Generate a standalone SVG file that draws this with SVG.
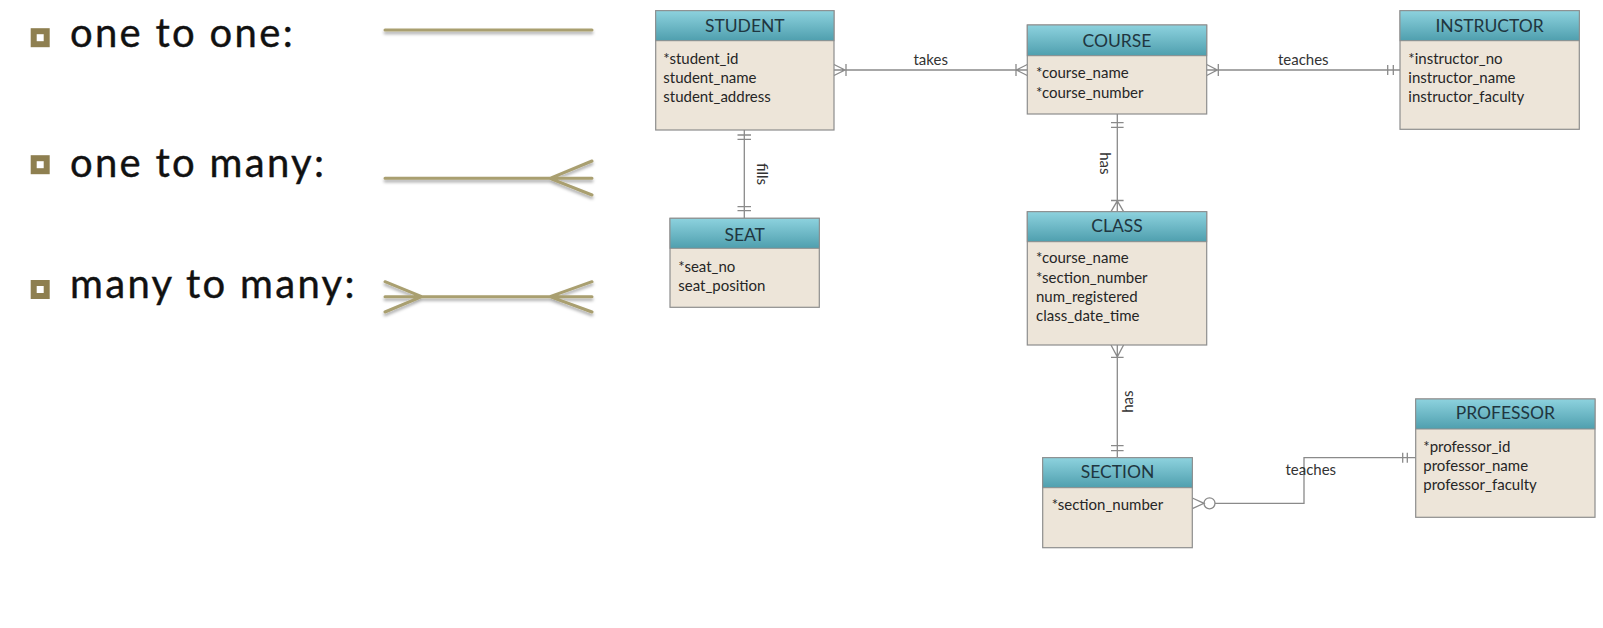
<svg xmlns="http://www.w3.org/2000/svg" width="1603" height="628" viewBox="0 0 1603 628">
<defs>
<linearGradient id="hg" x1="0" y1="0" x2="0" y2="1">
<stop offset="0" stop-color="#8dd2de"/>
<stop offset="1" stop-color="#4f9fae"/>
</linearGradient>
<filter id="sh" x="-5%" y="-50%" width="110%" height="300%">
<feDropShadow dx="0" dy="2.5" stdDeviation="1.5" flood-color="#000" flood-opacity="0.35"/>
</filter>
<style>
.hdr{fill:url(#hg);stroke:#8d8d8d;stroke-width:1}
.body{fill:#ede5d9;stroke:#8d8d8d;stroke-width:1.2}
.title{font-family:Lato,"Open Sans",sans-serif;font-size:17.5px;fill:#1f3640;text-anchor:middle}
.attr{font-family:Lato,"Open Sans",sans-serif;font-size:15px;fill:#262626}
.conn{stroke:#8a8a8a;stroke-width:1.3;fill:none}
.lbl{font-family:Lato,"Open Sans",sans-serif;font-size:15px;fill:#333}
.leg{font-family:Lato,"Open Sans",sans-serif;font-size:40px;fill:#111;stroke:#111;stroke-width:0.4;letter-spacing:2.3px}
.bul{fill:#fff;stroke:#8e7f50;stroke-width:6}
.ll{stroke:#a99f6f;stroke-width:3;fill:none;stroke-linecap:round}
</style>
</defs>
<rect width="1603" height="628" fill="#fff"/>

<g id="legend">
<rect class="bul" x="33.7" y="31.2" width="13" height="13"/>
<text class="leg" x="70" y="46.7">one to one:</text>
<rect class="bul" x="33.7" y="158.2" width="13" height="13"/>
<text class="leg" x="70" y="176.7">one to many:</text>
<rect class="bul" x="33.7" y="283" width="13" height="13"/>
<text class="leg" x="70" y="297.7">many to many:</text>
<g filter="url(#sh)">
<path class="ll" d="M385,30 H592"/>
<path class="ll" d="M385,178.3 H592 M550,178.3 L592,161 M550,178.3 L592,195"/>
<path class="ll" d="M385,296.7 H592 M421.7,296.7 L385,281.7 M421.7,296.7 L385,312 M550,296.7 L592,281.7 M550,296.7 L592,312"/>
</g>
</g>

<g id="connectors">
<path class="conn" d="M834,70 H1027.3 M834,64.5 L845,70 L834,75.5 M846,64 V76 M1016,64 V76 M1027.3,64.5 L1016.3,70 L1027.3,75.5"/>
<text class="lbl" x="930.7" y="65" text-anchor="middle">takes</text>
<path class="conn" d="M1206.7,70 H1400 M1206.7,64.5 L1217.3,70 L1206.7,75.5 M1218.3,64 V76 M1387.7,65 V75 M1393.3,65 V75"/>
<text class="lbl" x="1303.3" y="65" text-anchor="middle">teaches</text>
<path class="conn" d="M744.3,130 V218.3 M737.5,135 H751 M737.5,139.3 H751 M737.5,206.7 H751 M737.5,210.7 H751"/>
<text class="lbl" transform="translate(756.5,174) rotate(90)" text-anchor="middle">fills</text>
<path class="conn" d="M1117.3,114 V211.7 M1111,122.7 H1123.6 M1111,127.3 H1123.6 M1111,200.5 H1123.6 M1111,211.7 L1117.3,200.8 L1123.6,211.7"/>
<text class="lbl" transform="translate(1100,163.3) rotate(90)" text-anchor="middle">has</text>
<path class="conn" d="M1117.3,345 V457.7 M1111,345 L1117.3,356.8 L1123.6,345 M1111,357.3 H1123.6 M1111,445.7 H1123.6 M1111,450.7 H1123.6"/>
<text class="lbl" transform="translate(1133,401.7) rotate(-90)" text-anchor="middle">has</text>
<path class="conn" d="M1215,503.3 H1304 V457.7 H1415.7 M1192.3,498 L1204,503.3 L1192.3,508.6 M1402.7,452.7 V462.7 M1407.3,452.7 V462.7"/>
<circle class="conn" cx="1209.5" cy="503.3" r="5.5"/>
<text class="lbl" x="1310.8" y="475" text-anchor="middle">teaches</text>
</g>

<g id="student">
<rect class="body" x="655.7" y="10.7" width="178.3" height="119.3"/>
<rect class="hdr" x="655.7" y="10.7" width="178.3" height="30"/>
<text class="title" x="744.8" y="32.3">STUDENT</text>
<text class="attr" x="663.3" y="64">*student_id</text>
<text class="attr" x="663.3" y="82.7">student_name</text>
<text class="attr" x="663.3" y="101.7">student_address</text>
</g>

<g id="course">
<rect class="body" x="1027.3" y="25" width="179.4" height="89"/>
<rect class="hdr" x="1027.3" y="25" width="179.4" height="30.7"/>
<text class="title" x="1117" y="46.7">COURSE</text>
<text class="attr" x="1036" y="78.3">*course_name</text>
<text class="attr" x="1036" y="97.7">*course_number</text>
</g>

<g id="instructor">
<rect class="body" x="1400" y="10.7" width="179.3" height="118.6"/>
<rect class="hdr" x="1400" y="10.7" width="179.3" height="30"/>
<text class="title" x="1489.6" y="32.3">INSTRUCTOR</text>
<text class="attr" x="1408.3" y="64">*instructor_no</text>
<text class="attr" x="1408.3" y="82.7">instructor_name</text>
<text class="attr" x="1408.3" y="101.7">instructor_faculty</text>
</g>

<g id="seat">
<rect class="body" x="670" y="218.3" width="149.3" height="89"/>
<rect class="hdr" x="670" y="218.3" width="149.3" height="30"/>
<text class="title" x="744.7" y="240.7">SEAT</text>
<text class="attr" x="678.3" y="271.7">*seat_no</text>
<text class="attr" x="678.3" y="291">seat_position</text>
</g>

<g id="class">
<rect class="body" x="1027.3" y="211.7" width="179.4" height="133.3"/>
<rect class="hdr" x="1027.3" y="211.7" width="179.4" height="30"/>
<text class="title" x="1117" y="232.3">CLASS</text>
<text class="attr" x="1036" y="263.3">*course_name</text>
<text class="attr" x="1036" y="282.7">*section_number</text>
<text class="attr" x="1036" y="301.7">num_registered</text>
<text class="attr" x="1036" y="320.7">class_date_time</text>
</g>

<g id="section">
<rect class="body" x="1042.7" y="457.7" width="149.6" height="90"/>
<rect class="hdr" x="1042.7" y="457.7" width="149.6" height="30"/>
<text class="title" x="1117.5" y="478.3">SECTION</text>
<text class="attr" x="1051.7" y="510">*section_number</text>
</g>

<g id="professor">
<rect class="body" x="1415.7" y="399" width="179.3" height="118.3"/>
<rect class="hdr" x="1415.7" y="399" width="179.3" height="30"/>
<text class="title" x="1505.3" y="419.3">PROFESSOR</text>
<text class="attr" x="1423.3" y="451.7">*professor_id</text>
<text class="attr" x="1423.3" y="471">professor_name</text>
<text class="attr" x="1423.3" y="490">professor_faculty</text>
</g>
</svg>
